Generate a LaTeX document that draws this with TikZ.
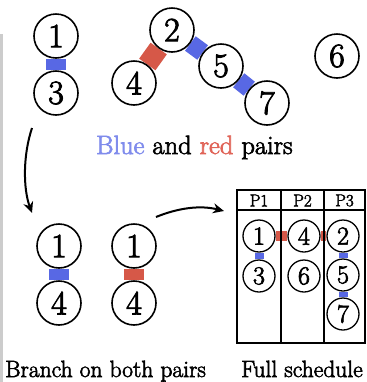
\documentclass[tikz,border=0pt]{standalone}
\usepackage{fontspec}
\setmainfont{Latin Modern Roman}[UprightFeatures={FakeBold=2.5}]
\usetikzlibrary{arrows.meta,backgrounds}
\definecolor{pairblue}{RGB}{88,104,228}
\definecolor{pairred}{RGB}{214,88,72}
\definecolor{txtblue}{RGB}{128,140,236}
\definecolor{txtred}{RGB}{224,100,88}
\tikzset{
  job/.style={circle, draw=black, fill=white, line width=1.6bp, inner sep=0pt,
    minimum size=44bp, font=\fontsize{34bp}{38bp}\selectfont},
  slot/.style={circle, draw=black, fill=white, line width=1.3bp, inner sep=0pt,
    minimum size=32bp, font=\fontsize{26bp}{29bp}\selectfont},
  bluebar/.style={draw=pairblue, line width=#1, line cap=butt},
  redbar/.style={draw=pairred, line width=#1, line cap=butt},
  caption/.style={anchor=base west, inner sep=0pt, font=\fontsize{23.5bp}{26bp}\selectfont},
  head/.style={font=\fontsize{17bp}{19bp}\selectfont, inner sep=0pt},
  grid/.style={draw=black, line width=1.3bp},
  flow/.style={draw=black, line width=2bp, -{Stealth[length=11bp,width=10bp]}},
}
\begin{document}
\begin{tikzpicture}[x=1bp,y=-1bp]
\useasboundingbox (0,0) rectangle (367,382);
% left edge strip
\fill[black!20] (0,34) rectangle (3,382);

% jobs and their pairs
\node[job] (a1) at (56,36) {1};
\node[job] (a3) at (56,93) {3};
\node[job] (a4) at (134,83) {4};
\node[job] (a2) at (172,30) {2};
\node[job] (a5) at (221,66) {5};
\node[job] (a7) at (267,103) {7};
\node[job] (a6) at (337,56) {6};
\begin{scope}[on background layer]
  \draw[bluebar=20bp] (a1) -- (a3);
  \draw[redbar=20bp] (a4) -- (a2);
  \draw[bluebar=18bp] (a2) -- (a5);
  \draw[bluebar=18bp] (a5) -- (a7);
\end{scope}
\node[anchor=base west, inner sep=0pt, font=\fontsize{26.5bp}{29bp}\selectfont] (lab1) at (96,154)
  {\textcolor{txtblue}{Blue} and \textcolor{txtred}{red} pairs};

% branching
\coordinate (f1s) at (32,128);
\coordinate (f1e) at (32,213);
\draw[flow] (f1s) .. controls (23,155) and (23,188) .. (f1e);

\node[job] (b1) at (59,246) {1};
\node[job] (b4) at (59,303) {4};
\node[job] (c1) at (134,246) {1};
\node[job] (c4) at (134,303) {4};
\begin{scope}[on background layer]
  \draw[bluebar=20bp] (b1) -- (b4);
  \draw[redbar=20bp] (c1) -- (c4);
\end{scope}
\node[caption] (lab2) at (5,377) {Branch on both pairs};

\coordinate (f2s) at (156,217);
\coordinate (f2e) at (224,211);
\draw[flow] (f2s) .. controls (178,208) and (200,205) .. (f2e);

% schedule table
\draw[grid] (237,190) rectangle (365,343);
\draw[grid] (237,210) -- (365,210);
\draw[grid] (281,190) -- (281,343);
\draw[grid] (324,190) -- (324,343);
\node[head] (h1) at (259,200.5) {P1};
\node[head] (h2) at (302.5,200.5) {P2};
\node[head] (h3) at (344.5,200.5) {P3};

\node[slot] (s1) at (259,236) {1};
\node[slot] (s3) at (259,276) {3};
\node[slot] (s4) at (304,236) {4};
\node[slot] (s6) at (304,276) {6};
\node[slot] (s2) at (343,236) {2};
\node[slot] (s5) at (343,275) {5};
\node[slot] (s7) at (343,314) {7};
\begin{scope}[on background layer]
  \draw[redbar=10bp] (s1) -- (s4);
  \draw[redbar=10bp] (s4) -- (s2);
  \draw[bluebar=9bp] (s1) -- (s3);
  \draw[bluebar=9bp] (s2) -- (s5);
  \draw[bluebar=9bp] (s5) -- (s7);
\end{scope}
\node[caption] (lab3) at (241,377) {Full schedule};
\end{tikzpicture}
\end{document}
